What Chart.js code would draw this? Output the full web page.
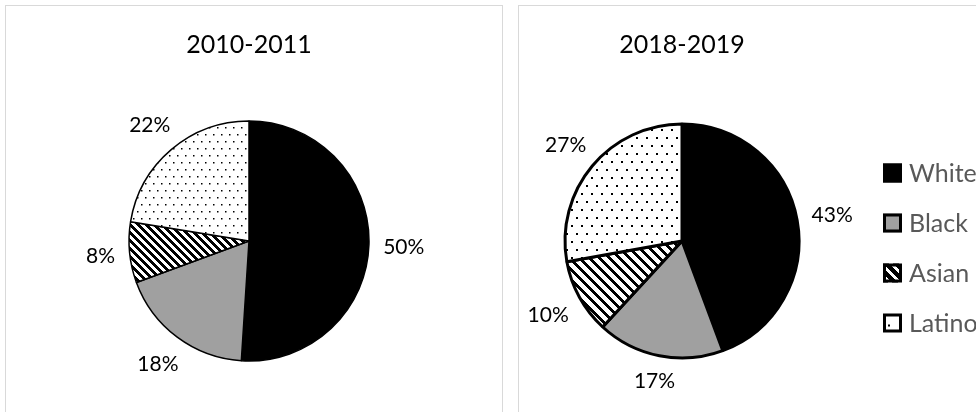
<!DOCTYPE html>
<html><head><meta charset="utf-8">
<script src="https://cdn.jsdelivr.net/npm/chart.js@4.4.1/dist/chart.umd.min.js"></script>
<style>
html,body{margin:0;padding:0;background:#fff;overflow:hidden;width:976px;height:412px}
#wrap{position:relative;width:976px;height:412px;overflow:hidden;background:#fff}
.box{position:absolute;border:1px solid #d9d9d9;box-sizing:border-box}
canvas{position:absolute;left:0;top:0}
</style></head><body>
<div id="wrap">
<div class="box" style="left:5px;top:5px;width:498px;height:430px"></div>
<div class="box" style="left:518px;top:5px;width:480px;height:430px"></div>
<canvas id="c1" width="976" height="412"></canvas>
<canvas id="c2" width="976" height="412"></canvas>
</div>
<script>
// ---- data ----
const categories = ['White', 'Black', 'Asian', 'Latino'];
const titles = ['2010-2011', '2018-2019'];
const values2010 = [50, 18, 8, 22];
const values2018 = [43, 17, 10, 27];

// ---- patterns ----
function stripePattern(period, black){
  const t=document.createElement('canvas'); t.width=period; t.height=period;
  const g=t.getContext('2d'); g.fillStyle='#fff'; g.fillRect(0,0,period,period);
  g.fillStyle='#000';
  for(let y=0;y<period;y++)for(let x=0;x<period;x++){
    if((((x-y)%period)+period)%period < black) g.fillRect(x,y,1,1);
  }
  return document.createElement('canvas').getContext('2d').createPattern(t,'repeat');
}
function dotPattern(w,h,s){
  const t=document.createElement('canvas'); t.width=w; t.height=h;
  const g=t.getContext('2d'); g.fillStyle='#fff'; g.fillRect(0,0,w,h);
  g.fillStyle='#000';
  g.fillRect(1,1,s,s); g.fillRect(1+w/2,1+h/2,s,s);
  return document.createElement('canvas').getContext('2d').createPattern(t,'repeat');
}
const fillsLeft  = ['#000000', '#a0a0a0', stripePattern(8,4),  dotPattern(8,14,1.5)];
const fillsRight = ['#000000', '#a0a0a0', stripePattern(10,4), dotPattern(10,16,2)];
const legendFills = ['#000000', '#a0a0a0', stripePattern(10,6), '#ffffff'];

// ---- overlay plugin: title, outside labels, legend ----
const overlay = {
  id:'overlay',
  afterDatasetsDraw(chart, args, o){
    const ctx=chart.ctx, meta=chart.getDatasetMeta(0), ds=chart.data.datasets[0];
    ctx.save();
    const cx=meta.data[0].x;
    ctx.fillStyle='#000'; ctx.textAlign='center'; ctx.textBaseline='alphabetic';
    ctx.font=o.titleFont; ctx.fillText(o.title, cx+o.titleDx, o.titleY);
    ctx.font=o.labelFont; ctx.textBaseline='middle';
    meta.data.forEach((arc,i)=>{
      const p=arc.getProps(['startAngle','endAngle','outerRadius','x','y'],true);
      const a=(p.startAngle+p.endAngle)/2, c=Math.cos(a), s=Math.sin(a);
      const txt=ds.data[i]+'%';
      const w=ctx.measureText(txt).width;
      const d=p.outerRadius+o.gap+Math.abs(c)*w/2+Math.abs(s)*o.labelH/2;
      ctx.fillText(txt, p.x+c*d, p.y+s*d+1);
    });
    if(o.legend){
      const L=o.legend;
      chart.data.labels.forEach((lab,i)=>{
        const y=L.y0+i*L.dy;
        ctx.fillStyle=L.fills[i];
        ctx.fillRect(L.x, y-L.size/2, L.size, L.size);
        if(i===3){ ctx.fillStyle='#000'; ctx.fillRect(L.x+5, y+L.size/2-8, 2, 2); }
        ctx.lineWidth=3; ctx.strokeStyle='#000';
        ctx.strokeRect(L.x+1.5, y-L.size/2+1.5, L.size-3, L.size-3);
        ctx.fillStyle=L.color; ctx.textAlign='left'; ctx.font=L.font;
        ctx.fillText(lab, L.textX, y+1);
      });
    }
    ctx.restore();
  }
};

function makePie(id, values, fills, title, cx, cy, R, bw, legend){
  const W=976, H=412, m=12;
  return new Chart(document.getElementById(id), {
    type:'pie',
    data:{ labels:categories, datasets:[{ data:values, backgroundColor:fills, borderColor:'#000', borderWidth:bw }]},
    options:{
      responsive:false, animation:false, devicePixelRatio:1,
      layout:{padding:{left:cx-R-m, top:cy-R-m, right:W-(cx+R+m), bottom:H-(cy+R+m)}},
      radius:R,
      plugins:{
        legend:{display:false}, tooltip:{enabled:false},
        overlay:{ title, titleFont:'25px Lato', titleY:53, titleDx:0,
          labelFont:'21px Lato', labelH:15, gap:14, legend }
      }
    },
    plugins:[overlay]
  });
}
Chart.defaults.font.family='Lato';
makePie('c1', values2010, fillsLeft, titles[0], 249, 241, 120, 1.5, null);
makePie('c2', values2018, fillsRight, titles[1], 682, 241, 117, 3,
  {x:883, y0:173, dy:50, size:19, textX:909, font:'25px Lato', color:'#595959', fills:legendFills});
</script>
</body></html>
